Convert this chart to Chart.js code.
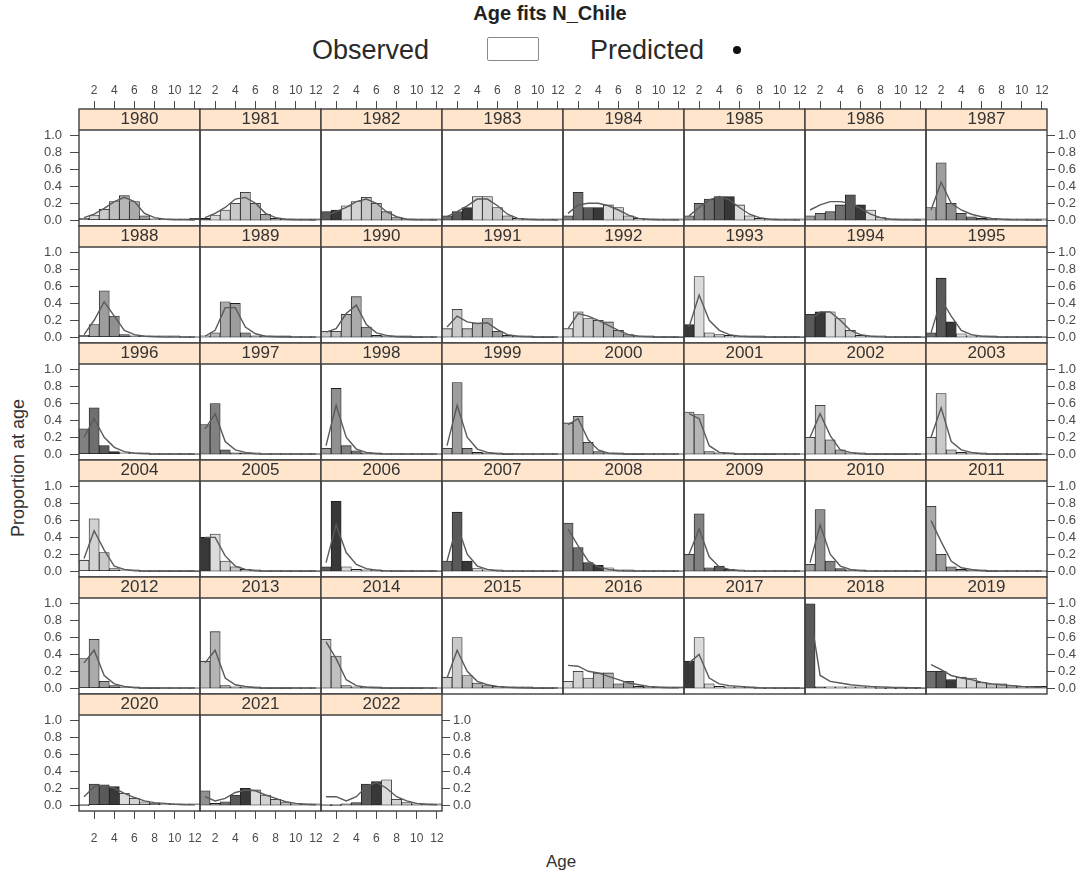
<!DOCTYPE html>
<html>
<head>
<meta charset="utf-8">
<title>Age fits N_Chile</title>
<script src="https://cdn.jsdelivr.net/npm/chart.js@4.4.1/dist/chart.umd.min.js"></script>
<style>
  html, body { margin: 0; padding: 0; background: #ffffff; }
  #page { position: relative; width: 1090px; height: 878px; overflow: hidden;
          font-family: "Liberation Sans", Arial, sans-serif; color: #222; }
  .txt { position: absolute; white-space: nowrap; line-height: 1; }
  #mainTitle { left: 550px; top: 3px; transform: translateX(-50%); font-size: 20px; font-weight: bold; color: #222; }
  #obsLabel { left: 312px; top: 37px; font-size: 27px; color: #2a2a2a; }
  #obsKey { position: absolute; left: 487px; top: 37px; width: 50px; height: 22px;
            border: 1.5px solid #8a8a8a; border-radius: 2px; background: #fff; }
  #predLabel { left: 590px; top: 37px; font-size: 27px; color: #2a2a2a; }
  #predKey { position: absolute; left: 733px; top: 46px; width: 8px; height: 8px;
             border-radius: 50%; background: #111; }
  #yTitle { left: 18px; top: 468px; transform: translate(-50%, -50%) rotate(-90deg);
            font-size: 18px; color: #333; }
  #xTitle { left: 561px; top: 861px; transform: translate(-50%, -50%); font-size: 17px; color: #333; }
  .panel { position: absolute; }
  .panel canvas { display: block; }
</style>
</head>
<body>
<div id="page">
  <div id="mainTitle" class="txt">Age fits N_Chile</div>
  <div id="obsLabel" class="txt">Observed</div>
  <div id="obsKey"></div>
  <div id="predLabel" class="txt">Predicted</div>
  <div id="predKey"></div>
  <div id="yTitle" class="txt">Proportion at age</div>
  <div id="xTitle" class="txt">Age</div>
</div>
<script>
// ---- data -----------------------------------------------------------------
const years = [1980, 1981, 1982, 1983, 1984, 1985, 1986, 1987,
               1988, 1989, 1990, 1991, 1992, 1993, 1994, 1995,
               1996, 1997, 1998, 1999, 2000, 2001, 2002, 2003,
               2004, 2005, 2006, 2007, 2008, 2009, 2010, 2011,
               2012, 2013, 2014, 2015, 2016, 2017, 2018, 2019,
               2020, 2021, 2022];
const ages = [1, 2, 3, 4, 5, 6, 7, 8, 9, 10, 11, 12];
const ageTicks = [2, 4, 6, 8, 10, 12];
const propTicks = [0, 0.2, 0.4, 0.6, 0.8, 1.0];

// observed proportion at age, one row per year (ages 1..12)
const observed = [
  [0.02, 0.06, 0.13, 0.22, 0.29, 0.22, 0.05, 0.01, 0.005, 0.003, 0.003, 0.02],
  [0.02, 0.06, 0.12, 0.20, 0.33, 0.20, 0.07, 0.02, 0.005, 0.003, 0.002, 0.003],
  [0.10, 0.12, 0.17, 0.22, 0.27, 0.20, 0.10, 0.03, 0.01, 0.003, 0.002, 0.002],
  [0.05, 0.10, 0.15, 0.28, 0.28, 0.15, 0.05, 0.02, 0.005, 0.002, 0.001, 0.001],
  [0.05, 0.33, 0.15, 0.15, 0.18, 0.15, 0.05, 0.02, 0.005, 0.002, 0.001, 0.001],
  [0.05, 0.20, 0.25, 0.28, 0.28, 0.18, 0.05, 0.02, 0.005, 0.002, 0.001, 0.001],
  [0.05, 0.08, 0.10, 0.18, 0.30, 0.18, 0.12, 0.03, 0.01, 0.003, 0.001, 0.001],
  [0.15, 0.68, 0.20, 0.08, 0.04, 0.02, 0.01, 0.005, 0.002, 0.001, 0.001, 0.001],
  [0.02, 0.15, 0.55, 0.25, 0.03, 0.01, 0.005, 0.002, 0.001, 0.001, 0, 0],
  [0.01, 0.05, 0.42, 0.40, 0.05, 0.01, 0.005, 0.002, 0.001, 0, 0, 0],
  [0.07, 0.07, 0.27, 0.48, 0.12, 0.02, 0.005, 0.002, 0.001, 0, 0, 0],
  [0.10, 0.33, 0.10, 0.17, 0.22, 0.07, 0.02, 0.005, 0.002, 0, 0, 0],
  [0.10, 0.30, 0.22, 0.20, 0.18, 0.08, 0.03, 0.01, 0.003, 0, 0, 0],
  [0.15, 0.72, 0.05, 0.03, 0.02, 0.01, 0.005, 0.002, 0, 0, 0, 0],
  [0.27, 0.30, 0.30, 0.22, 0.08, 0.02, 0.005, 0.002, 0, 0, 0, 0],
  [0.05, 0.70, 0.18, 0.04, 0.01, 0.005, 0.002, 0, 0, 0, 0, 0],
  [0.30, 0.55, 0.10, 0.03, 0.01, 0.005, 0.002, 0, 0, 0, 0, 0],
  [0.35, 0.60, 0.05, 0.01, 0.005, 0.002, 0, 0, 0, 0, 0, 0],
  [0.07, 0.78, 0.10, 0.04, 0.01, 0.003, 0, 0, 0, 0, 0, 0],
  [0.07, 0.85, 0.07, 0.02, 0.005, 0.002, 0, 0, 0, 0, 0, 0],
  [0.37, 0.45, 0.14, 0.03, 0.01, 0.003, 0, 0, 0, 0, 0, 0],
  [0.50, 0.47, 0.03, 0.01, 0.003, 0, 0, 0, 0, 0, 0, 0],
  [0.20, 0.58, 0.17, 0.05, 0.01, 0.003, 0, 0, 0, 0, 0, 0],
  [0.20, 0.72, 0.05, 0.02, 0.005, 0.002, 0, 0, 0, 0, 0, 0],
  [0.13, 0.62, 0.22, 0.03, 0.01, 0.003, 0, 0, 0, 0, 0, 0],
  [0.40, 0.44, 0.12, 0.05, 0.02, 0.005, 0, 0, 0, 0, 0, 0],
  [0.05, 0.83, 0.05, 0.02, 0.01, 0.003, 0, 0, 0, 0, 0, 0],
  [0.12, 0.70, 0.12, 0.03, 0.01, 0.003, 0, 0, 0, 0, 0, 0],
  [0.57, 0.28, 0.10, 0.07, 0.04, 0.01, 0.003, 0, 0, 0, 0, 0],
  [0.20, 0.68, 0.04, 0.06, 0.02, 0.005, 0, 0, 0, 0, 0, 0],
  [0.08, 0.73, 0.12, 0.03, 0.01, 0.003, 0, 0, 0, 0, 0, 0],
  [0.77, 0.20, 0.05, 0.02, 0.005, 0.002, 0, 0, 0, 0, 0, 0],
  [0.35, 0.58, 0.08, 0.03, 0.01, 0.003, 0, 0, 0, 0, 0, 0],
  [0.32, 0.67, 0.03, 0.01, 0.005, 0.002, 0, 0, 0, 0, 0, 0],
  [0.58, 0.38, 0.03, 0.01, 0.005, 0.002, 0, 0, 0, 0, 0, 0],
  [0.13, 0.60, 0.15, 0.06, 0.03, 0.02, 0.01, 0.005, 0.002, 0, 0, 0],
  [0.08, 0.20, 0.12, 0.18, 0.18, 0.05, 0.08, 0.02, 0.01, 0.005, 0.002, 0.002],
  [0.32, 0.60, 0.05, 0.02, 0.01, 0.005, 0.002, 0, 0, 0, 0, 0],
  [1.00, 0.002, 0.002, 0.001, 0.001, 0.001, 0.001, 0, 0, 0, 0, 0],
  [0.20, 0.20, 0.10, 0.13, 0.12, 0.07, 0.05, 0.05, 0.03, 0.02, 0.02, 0.02],
  [0.00, 0.25, 0.24, 0.22, 0.14, 0.08, 0.04, 0.02, 0.01, 0.005, 0.003, 0.002],
  [0.17, 0.02, 0.04, 0.12, 0.20, 0.18, 0.12, 0.07, 0.03, 0.01, 0.005, 0.002],
  [0.00, 0.00, 0.005, 0.03, 0.25, 0.28, 0.30, 0.07, 0.03, 0.01, 0.005, 0.002]
];

// model-predicted proportion at age, same layout
const predicted = [
  [0.03, 0.07, 0.14, 0.22, 0.27, 0.22, 0.08, 0.03, 0.01, 0.005, 0.003, 0.002],
  [0.03, 0.08, 0.15, 0.25, 0.27, 0.20, 0.08, 0.03, 0.01, 0.005, 0.003, 0.002],
  [0.05, 0.10, 0.15, 0.22, 0.25, 0.20, 0.10, 0.04, 0.01, 0.005, 0.003, 0.002],
  [0.04, 0.10, 0.17, 0.25, 0.25, 0.17, 0.07, 0.02, 0.01, 0.005, 0.003, 0.002],
  [0.08, 0.18, 0.20, 0.20, 0.17, 0.12, 0.06, 0.02, 0.01, 0.005, 0.003, 0.002],
  [0.05, 0.15, 0.24, 0.28, 0.24, 0.15, 0.07, 0.03, 0.01, 0.005, 0.003, 0.002],
  [0.12, 0.18, 0.22, 0.22, 0.20, 0.14, 0.07, 0.03, 0.01, 0.005, 0.003, 0.002],
  [0.12, 0.45, 0.20, 0.12, 0.07, 0.04, 0.02, 0.01, 0.005, 0.003, 0.002, 0.001],
  [0.03, 0.20, 0.42, 0.25, 0.08, 0.03, 0.01, 0.005, 0.002, 0.001, 0.001, 0.001],
  [0.01, 0.08, 0.35, 0.35, 0.12, 0.04, 0.01, 0.005, 0.002, 0.001, 0.001, 0.001],
  [0.06, 0.10, 0.28, 0.38, 0.15, 0.05, 0.02, 0.005, 0.002, 0.001, 0.001, 0.001],
  [0.12, 0.25, 0.18, 0.16, 0.17, 0.09, 0.03, 0.01, 0.003, 0.001, 0.001, 0.001],
  [0.10, 0.28, 0.25, 0.20, 0.14, 0.08, 0.03, 0.01, 0.003, 0.001, 0.001, 0.001],
  [0.12, 0.50, 0.20, 0.08, 0.03, 0.01, 0.005, 0.002, 0.001, 0.001, 0.001, 0.001],
  [0.20, 0.30, 0.30, 0.20, 0.08, 0.03, 0.01, 0.003, 0.001, 0.001, 0.001, 0.001],
  [0.05, 0.45, 0.25, 0.08, 0.03, 0.01, 0.005, 0.002, 0.001, 0.001, 0.001, 0.001],
  [0.20, 0.42, 0.20, 0.08, 0.03, 0.01, 0.005, 0.002, 0.001, 0.001, 0.001, 0.001],
  [0.30, 0.48, 0.15, 0.05, 0.02, 0.005, 0.002, 0.001, 0.001, 0.001, 0.001, 0.001],
  [0.10, 0.58, 0.20, 0.06, 0.02, 0.005, 0.002, 0.001, 0.001, 0.001, 0.001, 0.001],
  [0.10, 0.58, 0.20, 0.06, 0.02, 0.005, 0.002, 0.001, 0.001, 0.001, 0.001, 0.001],
  [0.35, 0.42, 0.17, 0.05, 0.01, 0.005, 0.002, 0.001, 0.001, 0.001, 0.001, 0.001],
  [0.48, 0.42, 0.10, 0.02, 0.01, 0.003, 0.002, 0.001, 0.001, 0.001, 0.001, 0.001],
  [0.20, 0.48, 0.22, 0.05, 0.02, 0.005, 0.002, 0.001, 0.001, 0.001, 0.001, 0.001],
  [0.20, 0.55, 0.15, 0.05, 0.02, 0.005, 0.002, 0.001, 0.001, 0.001, 0.001, 0.001],
  [0.15, 0.48, 0.25, 0.06, 0.02, 0.005, 0.002, 0.001, 0.001, 0.001, 0.001, 0.001],
  [0.40, 0.40, 0.18, 0.06, 0.02, 0.005, 0.002, 0.001, 0.001, 0.001, 0.001, 0.001],
  [0.10, 0.55, 0.22, 0.08, 0.03, 0.01, 0.003, 0.001, 0.001, 0.001, 0.001, 0.001],
  [0.12, 0.55, 0.20, 0.06, 0.02, 0.005, 0.002, 0.001, 0.001, 0.001, 0.001, 0.001],
  [0.50, 0.30, 0.12, 0.05, 0.02, 0.005, 0.002, 0.001, 0.001, 0.001, 0.001, 0.001],
  [0.20, 0.50, 0.17, 0.05, 0.02, 0.005, 0.002, 0.001, 0.001, 0.001, 0.001, 0.001],
  [0.10, 0.55, 0.20, 0.06, 0.02, 0.005, 0.002, 0.001, 0.001, 0.001, 0.001, 0.001],
  [0.60, 0.35, 0.12, 0.04, 0.02, 0.005, 0.002, 0.001, 0.001, 0.001, 0.001, 0.001],
  [0.30, 0.45, 0.15, 0.05, 0.02, 0.005, 0.002, 0.001, 0.001, 0.001, 0.001, 0.001],
  [0.30, 0.45, 0.12, 0.04, 0.02, 0.005, 0.002, 0.001, 0.001, 0.001, 0.001, 0.001],
  [0.55, 0.35, 0.10, 0.03, 0.01, 0.005, 0.002, 0.001, 0.001, 0.001, 0.001, 0.001],
  [0.12, 0.45, 0.20, 0.08, 0.04, 0.02, 0.01, 0.005, 0.002, 0.001, 0.001, 0.001],
  [0.27, 0.26, 0.20, 0.18, 0.14, 0.10, 0.06, 0.04, 0.02, 0.01, 0.005, 0.003],
  [0.30, 0.40, 0.12, 0.05, 0.03, 0.02, 0.01, 0.005, 0.003, 0.002, 0.001, 0.001],
  [0.90, 0.15, 0.08, 0.06, 0.04, 0.03, 0.02, 0.015, 0.01, 0.008, 0.005, 0.004],
  [0.28, 0.22, 0.15, 0.12, 0.10, 0.07, 0.05, 0.04, 0.03, 0.02, 0.015, 0.01],
  [0.10, 0.22, 0.23, 0.20, 0.14, 0.09, 0.05, 0.03, 0.02, 0.01, 0.005, 0.003],
  [0.10, 0.05, 0.08, 0.15, 0.18, 0.17, 0.12, 0.08, 0.04, 0.02, 0.01, 0.005],
  [0.10, 0.10, 0.05, 0.10, 0.22, 0.27, 0.20, 0.10, 0.05, 0.02, 0.01, 0.005]
];

// ---- layout and style -----------------------------------------------------
const FONT = '"Liberation Sans", Arial, sans-serif';
const GRID_LEFT = 79, PANEL_W = 121, GRID_TOP = 109, STRIP_H = 21, ROW_H = 117, NCOL = 8;
const MARGIN = { l: 44, r: 44, t: 30, b: 42 };
const INK = '#4a4a4a';

// bars are shaded by cohort (year - age), cycling through 12 grey levels
function cohortShade(cohort) {
  const p = (((cohort - 1980) % 12) + 12) % 12;
  const start = 0.22, end = 0.86, gamma = 2.2;
  const a = Math.pow(start, gamma), b = Math.pow(end, gamma);
  const g = Math.pow(a + (b - a) * p / 11, 1 / gamma);
  const v = Math.round(g * 255);
  return `rgb(${v},${v},${v})`;
}

function axis(position, tickLength, extra) {
  return Object.assign({
    type: 'linear',
    position,
    offset: false,
    grid: { display: true, offset: false, drawOnChartArea: false, drawTicks: true, tickLength, color: INK, lineWidth: 1 },
    border: { display: false }
  }, extra);
}

// strip background and panel frame around each chart
const panelFrame = {
  id: 'panelFrame',
  beforeDraw(chart) {
    const t = chart.titleBlock, ctx = chart.ctx;
    ctx.save();
    ctx.fillStyle = '#ffe5cc';
    ctx.fillRect(t.left, t.top, t.width, t.height);
    ctx.restore();
  },
  afterDatasetsDraw(chart) {
    const a = chart.chartArea, t = chart.titleBlock, ctx = chart.ctx;
    ctx.save();
    ctx.strokeStyle = '#3f3f3f';
    ctx.lineWidth = 1.4;
    ctx.strokeRect(a.left, t.top, a.right - a.left, a.bottom - t.top);
    ctx.beginPath();
    ctx.moveTo(a.left, t.bottom);
    ctx.lineTo(a.right, t.bottom);
    ctx.stroke();
    ctx.restore();
  }
};

const page = document.getElementById('page');
const lastRow = Math.floor((years.length - 1) / NCOL);

years.forEach((yr, i) => {
  const col = i % NCOL, row = Math.floor(i / NCOL);
  const showLeft = col === 0;
  const showRight = col === NCOL - 1 || i === years.length - 1;
  const showTop = row === 0;
  const showBottom = row === lastRow;

  const w = PANEL_W + MARGIN.l + MARGIN.r;
  const h = ROW_H + MARGIN.t + MARGIN.b;
  const holder = document.createElement('div');
  holder.className = 'panel';
  holder.style.left = (GRID_LEFT + col * PANEL_W - MARGIN.l) + 'px';
  holder.style.top = (GRID_TOP + row * ROW_H - MARGIN.t) + 'px';
  holder.style.width = w + 'px';
  holder.style.height = h + 'px';
  const cv = document.createElement('canvas');
  cv.width = w; cv.height = h;
  cv.style.width = w + 'px'; cv.style.height = h + 'px';
  holder.appendChild(cv);
  page.appendChild(holder);

  const setAgeTicks = s => { s.ticks = ageTicks.map(v => ({ value: v })); };
  const setPropTicks = s => { s.ticks = propTicks.map(v => ({ value: v })); };
  const tickFont = size => ({ family: FONT, size });

  new Chart(cv, {
    type: 'bar',
    data: {
      datasets: [
        {
          type: 'line',
          label: 'Predicted',
          data: ages.map((a, k) => ({ x: a, y: predicted[i][k] })),
          borderColor: '#5a5a5a',
          borderWidth: 1.4,
          pointRadius: 0,
          tension: 0,
          order: 0
        },
        {
          type: 'bar',
          label: 'Observed',
          data: ages.map((a, k) => ({ x: a, y: observed[i][k] })),
          backgroundColor: ages.map(a => cohortShade(yr - a)),
          borderColor: '#1e1e1e',
          borderWidth: 0.8,
          borderSkipped: false,
          minBarLength: 1.2,
          barPercentage: 1,
          categoryPercentage: 1,
          order: 1
        }
      ]
    },
    options: {
      responsive: false,
      animation: false,
      devicePixelRatio: 1,
      events: [],
      layout: {
        padding: {
          left: showLeft ? 0 : MARGIN.l,
          right: showRight ? 0 : MARGIN.r,
          top: showTop ? 0 : MARGIN.t,
          bottom: showBottom ? 0 : MARGIN.b
        }
      },
      plugins: {
        legend: { display: false },
        tooltip: { enabled: false },
        title: {
          display: true,
          text: String(yr),
          position: 'top',
          fullSize: false,
          weight: 1,
          color: '#333333',
          font: { family: FONT, size: 17, weight: 'normal', lineHeight: '15px' },
          padding: { top: 3, bottom: 3 }
        }
      },
      scales: {
        x: axis('bottom', 8, {
          min: 0.5, max: 12.5, display: showBottom,
          afterBuildTicks: setAgeTicks,
          afterFit: s => { if (showBottom) s.height = MARGIN.b; },
          ticks: { color: INK, font: tickFont(12), maxRotation: 0, autoSkip: false, padding: 12 }
        }),
        xTop: axis('top', 8, {
          min: 0.5, max: 12.5, display: showTop, weight: 10,
          afterBuildTicks: setAgeTicks,
          afterFit: s => { if (showTop) s.height = MARGIN.t; },
          ticks: { color: INK, font: tickFont(12), maxRotation: 0, autoSkip: false, padding: 3 }
        }),
        y: axis('left', 9, {
          min: -0.07, max: 1.07, display: showLeft,
          afterBuildTicks: setPropTicks,
          afterFit: s => { if (showLeft) s.width = MARGIN.l; },
          ticks: { color: INK, font: tickFont(13), padding: 8, callback: v => Number(v).toFixed(1) }
        }),
        yRight: axis('right', 8, {
          min: -0.07, max: 1.07, display: showRight,
          afterBuildTicks: setPropTicks,
          afterFit: s => { if (showRight) s.width = MARGIN.r; },
          ticks: { color: INK, font: tickFont(13), padding: 3, callback: v => Number(v).toFixed(1) }
        })
      }
    },
    plugins: [panelFrame]
  });
});
</script>
</body>
</html>
